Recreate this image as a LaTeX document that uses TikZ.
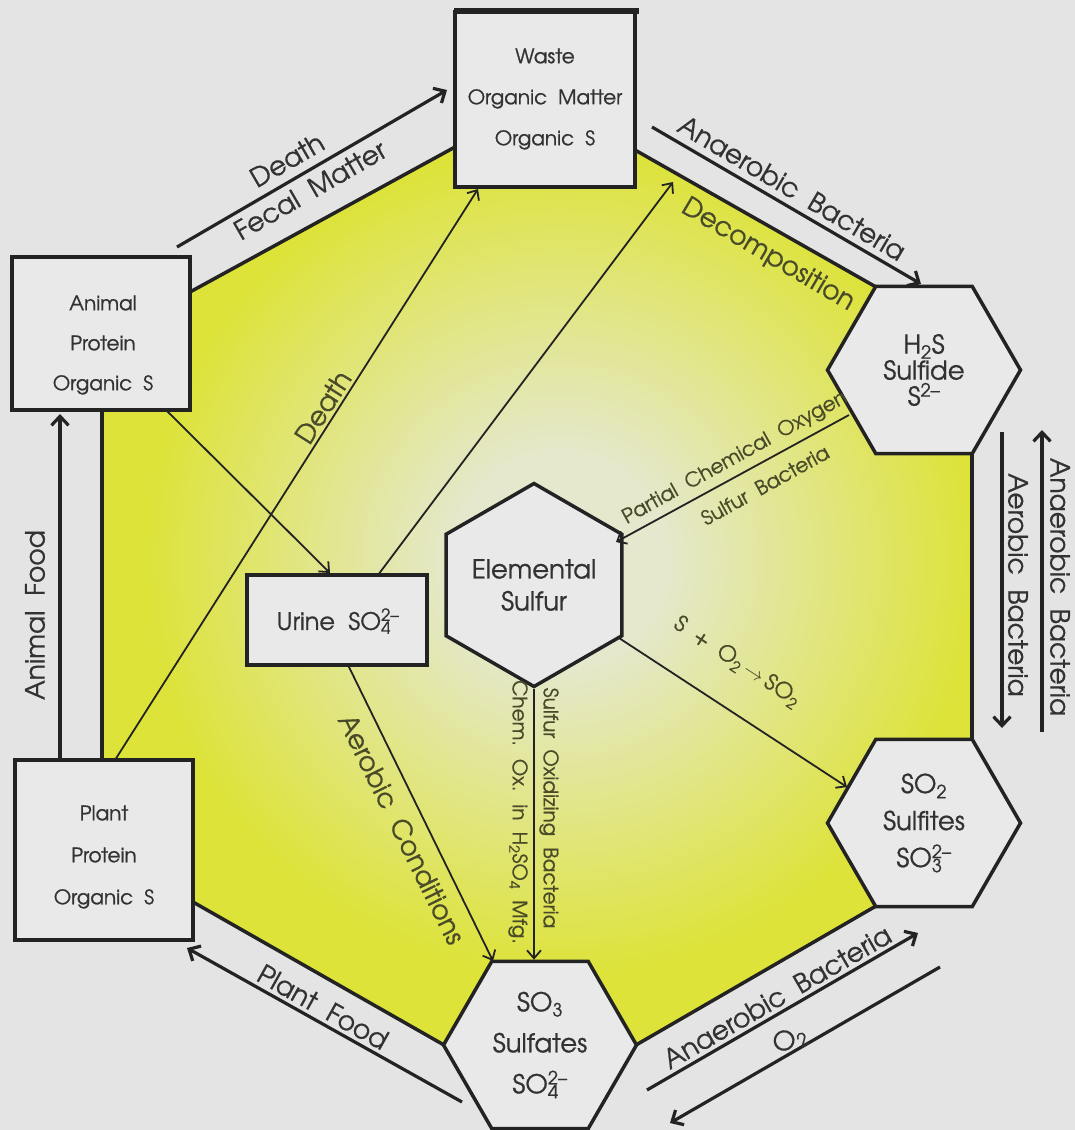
\documentclass[tikz,border=0pt]{standalone}
\usepackage{fontspec}
\IfFontExistsTF{TeX Gyre Adventor}
  {\setmainfont{TeX Gyre Adventor}[WordSpace=2.0, FakeBold=0.8]}
  {\setmainfont{Poppins}[WordSpace=1.5]}
\usetikzlibrary{arrows.meta,shapes.geometric}
\definecolor{bg}{RGB}{228,228,228}
\definecolor{boxfill}{RGB}{233,233,233}
\definecolor{edge}{RGB}{35,35,35}
\definecolor{txt}{RGB}{50,50,50}
\definecolor{txtin}{RGB}{72,74,40}
\definecolor{yel}{RGB}{221,227,56}
\definecolor{pale}{RGB}{229,232,205}
\pgfdeclareradialshading{yelshade}{\pgfpoint{0bp}{0bp}}{color(0bp)=(pale); color(5bp)=(pale); color(20bp)=(yel); color(50bp)=(yel)}
\newcommand\ionsub[2]{\rlap{\textsubscript{#1}}\textsuperscript{#2}}
\begin{document}
\begin{tikzpicture}[x=1pt, y=-1pt,
  cbox/.style={rectangle, draw=edge, line width=3.5pt, fill=boxfill, inner sep=0pt},
  hexnode/.style={regular polygon, regular polygon sides=6, minimum size=193pt, inner sep=0pt,
     draw=edge, line width=3.5pt, fill=boxfill, align=center, text=txt, font=\fontsize{26}{#1}\selectfont},
  boxtxt/.style={align=center, text=txt, inner sep=0pt, font=\fontsize{20}{#1}\selectfont},
  lab/.style={text=txt, inner sep=0pt, font=\fontsize{26.5}{30}\selectfont},
  labin/.style={lab, text=txtin},
  labsm/.style={text=txtin, inner sep=0pt, font=\fontsize{20}{24}\selectfont},
  bound/.style={draw=edge, line width=3.5pt, line cap=round},
  bigarrow/.style={draw=edge, line width=3.2pt, -{Straight Barb[length=9pt, width=17pt]}},
  thinarrow/.style={draw=edge, line width=1.8pt, -{Straight Barb[length=8pt, width=14pt]}}
]
\path[use as bounding box, fill=bg] (0,0) rectangle (1075,1130);

% yellow region
\begin{scope}
  \clip (190,292) -- (455,147) -- (635,150) -- (876,287) -- (924,370) -- (972,453)
     -- (972,740) -- (924,823) -- (876,906) -- (636,1045) -- (540,1045) -- (444,1045)
     -- (193,902) -- (193,760) -- (102,760) -- (102,410) -- (190,410) -- cycle;
  \shade[shading=yelshade] (560,560) circle [radius=520];
\end{scope}
\draw[bound] (190,292) -- (455,147);
\draw[bound] (635,150) -- (876,287);
\draw[bound] (972,453) -- (972,740);
\draw[bound] (876,906) -- (636,1045);
\draw[bound] (444,1045) -- (193,902);
\draw[bound] (102,410) -- (102,760);

% boxes
\node[cbox, minimum width=180pt, minimum height=175pt] (waste) at (545,99.5) {};
\draw[edge, line width=6pt] (454,11) -- (639,11);
\node[cbox, minimum width=178pt, minimum height=153pt] (animal) at (101,333.5) {};
\node[cbox, minimum width=178pt, minimum height=180pt] (plant) at (104,850) {};
\node[cbox, minimum width=180pt, minimum height=90pt] (urine) at (337,620) {};

\node[boxtxt=41] (wasteT) at (545,99) {Waste\\Organic Matter\\Organic S};
\node[boxtxt=40] (animalT) at (103,345) {Animal\\Protein\\Organic S};
\node[boxtxt=42] (plantT) at (104,857) {Plant\\Protein\\Organic S};
\node[text=txt, inner sep=0pt, font=\fontsize{24}{28}\selectfont] (urineT) at (338,621) {Urine SO\ionsub{4}{2–}};

% hexagons
\node[hexnode=26] (h2s) at (924,370) {H\textsubscript{2}S\\Sulfide\\S\textsuperscript{2–}};
\node[hexnode=37] (so2) at (924,823) {SO\textsubscript{2}\\Sulfites\\SO\ionsub{3}{2–}};
\node[hexnode=41] (so3) at (540,1045) {SO\textsubscript{3}\\Sulfates\\SO\ionsub{4}{2–}};
\node[hexnode=32, shape border rotate=30, minimum size=195pt] (elem) at (534,585) {Elemental\\Sulfur};

% thin inner arrows
\coordinate (dthS) at (115,760);
\coordinate (dthE) at (478,189);
\draw[thinarrow] (dthS) -- (dthE);
\coordinate (auS) at (166,410);
\coordinate (auE) at (330,573);
\draw[thinarrow] (auS) -- (auE);
\coordinate (udS) at (378,575);
\coordinate (udE) at (673,182);
\draw[thinarrow] (udS) -- (udE);
\coordinate (usS) at (348,665);
\coordinate (usE) at (493,961);
\draw[thinarrow] (usS) -- (usE);
\draw[thinarrow] (elem.south) -- (elem.south |- so3.north);
\coordinate (heS) at (849,415);
\coordinate (heE) at (616,542);
\draw[thinarrow] (heS) -- (heE);
\coordinate (esS) at (619,638);
\coordinate (esE) at (847,787);
\draw[thinarrow] (esS) -- (esE);

% big outer arrows
\coordinate (dfS) at (177,247);
\coordinate (dfE) at (447,90);
\draw[bigarrow] (dfS) -- (dfE);
\coordinate (abS) at (652,127);
\coordinate (abE) at (921,284);
\draw[bigarrow] (abS) -- (abE);
\coordinate (aeS) at (1002,432);
\coordinate (aeE) at (1002,728);
\draw[bigarrow] (aeS) -- (aeE);
\coordinate (anS) at (1042,732);
\coordinate (anE) at (1042,430);
\draw[bigarrow] (anS) -- (anE);
\coordinate (bbS) at (647,1090);
\coordinate (bbE) at (918,933);
\draw[bigarrow] (bbS) -- (bbE);
\coordinate (ooS) at (940,967);
\coordinate (ooE) at (670,1123);
\draw[bigarrow] (ooS) -- (ooE);
\coordinate (pfS) at (462,1102);
\coordinate (pfE) at (187,948);
\draw[bigarrow] (pfS) -- (pfE);
\coordinate (afS) at (60,760);
\coordinate (afE) at (60,414);
\draw[bigarrow] (afS) -- (afE);

% labels
\node[lab, rotate=30] (lDeath) at (287,160) {Death};
\node[lab, rotate=30] (lFecal) at (310,190) {Fecal Matter};
\node[lab, rotate=-30.5] (lAnae1) at (792,188) {Anaerobic Bacteria};
\node[labin, rotate=-30.5] (lDecomp) at (768,255) {Decomposition};
\node[labin, rotate=57.6] (lDeath2) at (323,407) {Death};
\node[labin, rotate=-63.8] (lAerCond) at (402,829) {Aerobic Conditions};
\node[labsm, rotate=-90] (lSOB) at (549,808) {Sulfur Oxidizing Bacteria};
\node[labsm, rotate=-90] (lChem) at (518,812) {Chem. Ox. in H\textsubscript{2}SO\textsubscript{4} Mfg.};
\node[labsm, rotate=29] (lPCO) at (735,458) {Partial Chemical Oxygen};
\node[labsm, rotate=29] (lSB) at (765,485) {Sulfur Bacteria};
\node[labsm, rotate=-33, font=\fontsize{22}{26}\selectfont] (lSO) at (737,662) {S + O\textsubscript{2}\,$\rightarrow$\,SO\textsubscript{2}};
\node[lab, rotate=-90] (lAer) at (1018,585) {Aerobic Bacteria};
\node[lab, rotate=-90] (lAna) at (1060,587) {Anaerobic Bacteria};
\node[lab, rotate=90] (lAF) at (35,615) {Animal Food};
\node[lab, rotate=-29.2] (lPF) at (323,1007) {Plant Food};
\node[lab, rotate=30] (lAnae2) at (777,997) {Anaerobic Bacteria};
\node[lab, rotate=30] (lO2) at (790,1040) {O\textsubscript{2}};
\end{tikzpicture}
\end{document}
